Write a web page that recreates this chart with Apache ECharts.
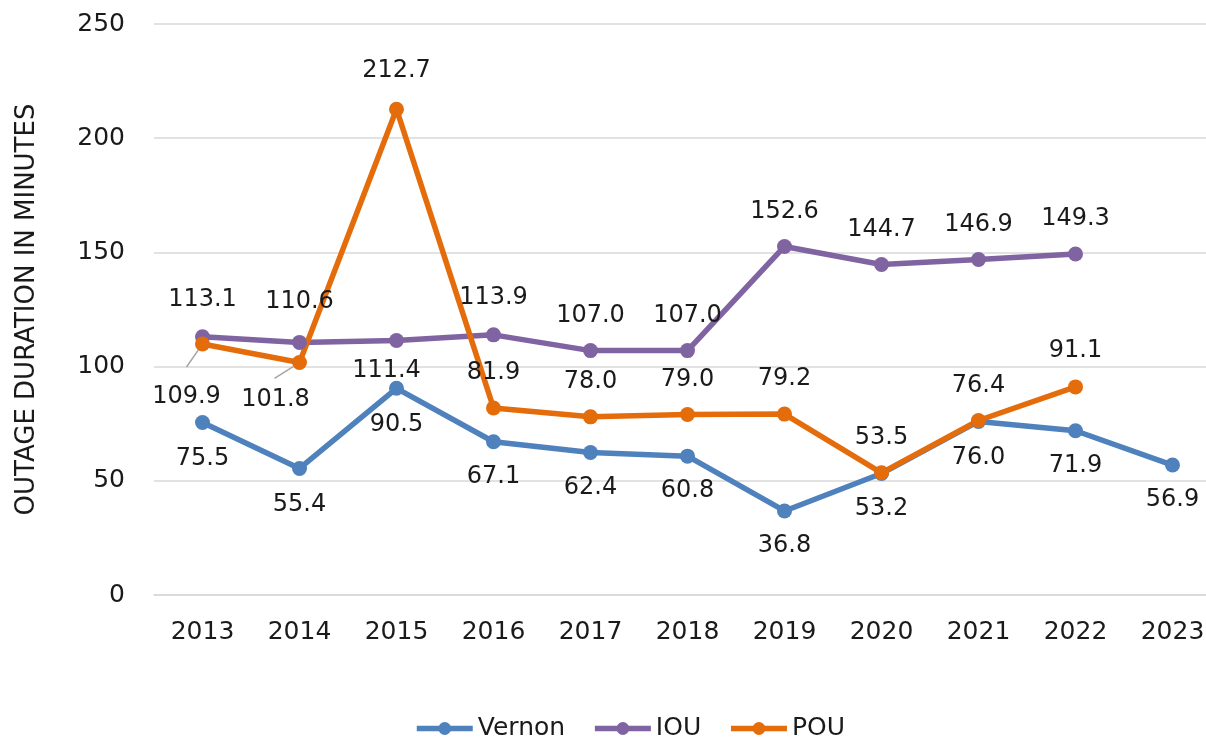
<!DOCTYPE html>
<html>
<head>
<meta charset="utf-8">
<script src="https://cdn.jsdelivr.net/npm/echarts@6/dist/echarts.min.js"></script>
<style>
html,body{margin:0;padding:0;background:#fff;}
#chart{width:1206px;height:740px;}
</style>
</head>
<body>
<div id="chart"></div>
<script>
const years = ['2013','2014','2015','2016','2017','2018','2019','2020','2021','2022','2023'];
const vernon = [75.5, 55.4, 90.5, 67.1, 62.4, 60.8, 36.8, 53.2, 76.0, 71.9, 56.9];
const iou = [113.1, 110.6, 111.4, 113.9, 107.0, 107.0, 152.6, 144.7, 146.9, 149.3, null];
const pou = [109.9, 101.8, 212.7, 81.9, 78.0, 79.0, 79.2, 53.5, 76.4, 91.1, null];
const yTicks = [0, 50, 100, 150, 200, 250];

const FONT = 'DejaVu Sans';
const FS = 24;
const AFS = 25;
const TXT = '#1a1a1a';

// label offsets (style only), per series index
const labelOffsets = {
  Vernon: [[0,36],[0,36],[0,36],[0,35],[0,35],[0,35],[0,35],[0,35],[0,36],[0,35],[0,35]],
  IOU:    [[0,-37],[0,-41],[-10,30],[0,-37],[0,-35],[0,-35],[0,-35],[0,-35],[0,-35],[0,-35],[0,0]],
  POU:    [[-16,53],[-24,37],[0,-38],[0,-35],[0,-35],[0,-35],[0,-35],[0,-35],[0,-35],[0,-36],[0,0]]
};
// leader lines (style only): series -> index -> pixel delta of the line's far end from the point
const leaders = { 2: { 0: [-16, 23], 1: [-25, 16] } };
const seriesValues = [vernon, iou, pou];

function buildData(name, values) {
  return values.map((v, i) => ({ value: v, label: { offset: labelOffsets[name][i] } }));
}

function mkSeries(name, values, color) {
  return {
    name: name,
    type: 'line',
    data: buildData(name, values),
    symbol: 'circle',
    symbolSize: 15,
    lineStyle: { width: 5.5, color: color },
    itemStyle: { color: color },
    connectNulls: false,
    label: {
      show: true,
      position: 'inside',
      formatter: p => (p.value == null ? '' : Number(p.value).toFixed(1)),
      fontFamily: FONT,
      fontSize: FS,
      color: TXT
    },
    emphasis: { disabled: true },
    animation: false
  };
}

const chart = echarts.init(document.getElementById('chart'), null, { renderer: 'canvas' });
chart.setOption({
  backgroundColor: '#ffffff',
  animation: false,
  grid: { left: 154, width: 1067, top: 24, bottom: 145, containLabel: false, outerBoundsMode: 'none' },
  legend: {
    data: ['Vernon', 'IOU', 'POU'],
    left: 409,
    top: 711,
    itemWidth: 56,
    itemHeight: 16,
    itemGap: 27,
    lineStyle: { width: 5.5 },
    textStyle: { fontFamily: FONT, fontSize: AFS, color: TXT }
  },
  xAxis: {
    type: 'category',
    data: years,
    boundaryGap: true,
    axisLine: { show: true, lineStyle: { color: '#d9d9d9', width: 1.5 } },
    axisTick: { show: false },
    axisLabel: { fontFamily: FONT, fontSize: AFS, color: TXT, margin: 25 }
  },
  yAxis: {
    type: 'value',
    min: yTicks[0],
    max: yTicks[yTicks.length - 1],
    interval: 50,
    name: 'OUTAGE DURATION IN MINUTES',
    nameLocation: 'middle',
    nameRotate: 90,
    nameGap: 114,
    nameTextStyle: { fontFamily: FONT, fontSize: 26, color: TXT },
    axisLine: { show: false },
    axisTick: { show: false },
    splitLine: { show: true, lineStyle: { color: '#d9d9d9', width: 1.5 } },
    axisLabel: { fontFamily: FONT, fontSize: AFS, color: TXT, margin: 29 }
  },
  series: [
    mkSeries('Vernon', vernon, '#4F81BD'),
    mkSeries('IOU', iou, '#8064A2'),
    mkSeries('POU', pou, '#E46C0A')
  ]
});

// leader lines for moved labels, anchored on the data points via the chart's own scales
const guideEls = [];
Object.keys(leaders).forEach(si => {
  Object.keys(leaders[si]).forEach(idx => {
    const i = Number(idx);
    const p = chart.convertToPixel({ seriesIndex: Number(si) }, [i, seriesValues[si][i]]);
    const d = leaders[si][i];
    const len = Math.sqrt(d[0] * d[0] + d[1] * d[1]);
    const r = 7.5;
    guideEls.push({
      type: 'line',
      z: 1,
      silent: true,
      shape: {
        x1: p[0] + d[0] / len * r, y1: p[1] + d[1] / len * r,
        x2: p[0] + d[0], y2: p[1] + d[1]
      },
      style: { stroke: '#a6a6a6', lineWidth: 1.5 }
    });
  });
});
chart.setOption({ graphic: { elements: guideEls } });
</script>
</body>
</html>
